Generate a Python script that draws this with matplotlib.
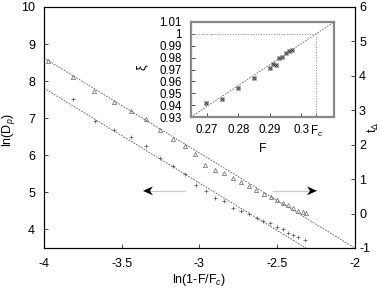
import numpy as np
import matplotlib
matplotlib.use("Agg")
import matplotlib.pyplot as plt

plt.rcParams['font.family'] = ['Liberation Sans', 'DejaVu Sans']
plt.rcParams['font.size'] = 9
plt.rcParams['mathtext.fontset'] = 'custom'
plt.rcParams['mathtext.rm'] = 'Liberation Sans'
plt.rcParams['mathtext.it'] = 'Liberation Sans:italic'

# ln(1-F/Fc) vs ln(Dp)  (+ markers, left axis)
x_dp = [-3.815, -3.672, -3.550, -3.442, -3.344, -3.254, -3.172, -3.095, -3.023, -2.956,
        -2.898, -2.841, -2.786, -2.733, -2.682, -2.630, -2.590, -2.547, -2.504, -2.465,
        -2.429, -2.397, -2.365, -2.322]
ln_dp = [7.507, 6.935, 6.679, 6.491, 6.248, 5.922, 5.714, 5.491, 5.202, 5.032,
         4.860, 4.757, 4.588, 4.509, 4.415, 4.313, 4.232, 4.170, 4.062, 4.008,
         3.916, 3.854, 3.792, 3.720]

# ln(1-F/Fc) vs t_Delta  (triangles, right axis)
x_t = [-3.972, -3.812, -3.677, -3.550, -3.442, -3.344, -3.254, -3.172, -3.095, -3.026,
       -2.961, -2.898, -2.841, -2.786, -2.733, -2.683, -2.635, -2.585, -2.542, -2.500,
       -2.461, -2.429, -2.397, -2.365, -2.336, -2.315]
t_delta = [4.432, 3.976, 3.569, 3.250, 2.979, 2.756, 2.428, 2.157, 1.963, 1.716,
           1.411, 1.274, 1.170, 1.019, 0.911, 0.801, 0.676, 0.569, 0.490, 0.394,
           0.316, 0.240, 0.153, 0.084, 0.046, 0.026]

# fitted lines (value at x=-4, slope)
dp_fit = (7.81, -2.558)
t_fit = (4.519, -2.76)

# inset: F vs xi
F = [0.2698, 0.2749, 0.2800, 0.2850, 0.2900, 0.2911, 0.2920, 0.2930, 0.2938, 0.2951, 0.2960, 0.2970]
xi = [0.9420, 0.9451, 0.9546, 0.9625, 0.9712, 0.9745, 0.9737, 0.9798, 0.9802, 0.9835, 0.9857, 0.9861]
Fc = 0.3047
xi_slope = 1.762

fig = plt.figure(figsize=(3.82, 2.89), dpi=100)
ax = fig.add_axes([0.115, 0.142, 0.814, 0.834])
ax2 = ax.twinx()

xx = np.array([-4.0, -2.0])
ax.plot(xx, dp_fit[0] + dp_fit[1] * (xx + 4), ls=(0, (2, 1.5)), color='#555555', lw=0.6)
ax.plot(x_dp, ln_dp, '+', color='#555555', ms=3.5, mew=0.5)
ax2.plot(xx, t_fit[0] + t_fit[1] * (xx + 4), ls=(0, (2, 1.5)), color='#555555', lw=0.6)
ax2.plot(x_t, t_delta, '^', mfc='none', mec='#666666', ms=3, mew=0.5)

# arrows: light grey shaft, black barbed head
arrow_y = 5.04
for tail, tip in ((-3.093, -3.363), (-2.527, -2.244)):
    d = 0.064 if tip < tail else -0.064
    ax.plot([tail, tip + d * 0.7], [arrow_y, arrow_y], color='#c8c8c8', lw=0.8)
    ax.fill([tip, tip + d, tip + d * 0.7, tip + d],
            [arrow_y, arrow_y + 0.12, arrow_y, arrow_y - 0.12], color='black', lw=0, zorder=5)

ax.set_xlim(-4, -2)
ax.set_ylim(3.5, 10)
ax2.set_ylim(-1, 6)
ax.set_xticks([-4, -3.5, -3, -2.5, -2])
ax.set_xticklabels(['-4', '-3.5', '-3', '-2.5', '-2'])
ax.set_yticks([4, 5, 6, 7, 8, 9, 10])
ax2.set_yticks(range(-1, 7))
ax2.set_yticklabels([str(v) for v in range(-1, 7)])
ax.tick_params(axis='x', direction='in', length=3, width=0.5, pad=7)
ax.tick_params(axis='y', direction='in', length=3, width=0.5, pad=6.5)
ax2.tick_params(direction='in', length=3, width=0.5, pad=3)
ax.set_xlabel('ln(1-F/F$_c$)')
ax.xaxis.set_label_coords(0.5, -0.098)
ax.set_ylabel('ln(D$_p$)')
ax.yaxis.set_label_coords(-0.085, 0.49)
ax2.set_ylabel(r'$\mathregular{t_\Delta}$')
ax2.yaxis.set_label_coords(1.035, 0.5)
for s in ax.spines.values():
    s.set_linewidth(0.8)

# inset
ins = fig.add_axes([0.5, 0.595, 0.374, 0.329])
ff = np.array([0.265, 0.3103])
ins.plot(ff, 1 + xi_slope * (ff - Fc), ls=(0, (2, 1.5)), color='#666666', lw=0.6)
ins.plot([0.265, Fc], [1, 1], ls=':', color='#888888', lw=0.7)
ins.plot([Fc, Fc], [0.93, 1], ls=':', color='#888888', lw=0.7)
ins.plot(F, xi, 's', mfc='#bbbbbb', mec='#999999', ms=3.2, mew=0.5)
ins.plot(F, xi, 'x', color='#222222', ms=1.8, mew=0.6)
ins.set_xlim(0.265, 0.3103)
ins.set_ylim(0.93, 1.01)
ins.set_xticks([0.27, 0.28, 0.29, 0.30, Fc])
ins.set_xticklabels(['0.27', '0.28', '0.29', '0.3', 'F$_c$'], fontsize=8.3)
yt = [0.93, 0.94, 0.95, 0.96, 0.97, 0.98, 0.99, 1.0, 1.01]
ins.set_yticks(yt)
ins.set_yticklabels(['0.93', '0.94', '0.95', '0.96', '0.97', '0.98', '0.99', '1', '1.01'], fontsize=8.3)
ins.tick_params(axis='x', direction='in', length=3, width=0.5, pad=5)
ins.tick_params(axis='y', direction='in', length=3, width=0.5, pad=6.5)
ins.set_xlabel('F', fontsize=9)
ins.xaxis.set_label_coords(0.5, -0.27)
ins.set_ylabel('ξ', fontsize=9)
ins.yaxis.set_label_coords(-0.30, 0.52)
for s in ins.spines.values():
    s.set_linewidth(1.6)
    s.set_color('#888888')

fig.savefig('out.png', dpi=100)
